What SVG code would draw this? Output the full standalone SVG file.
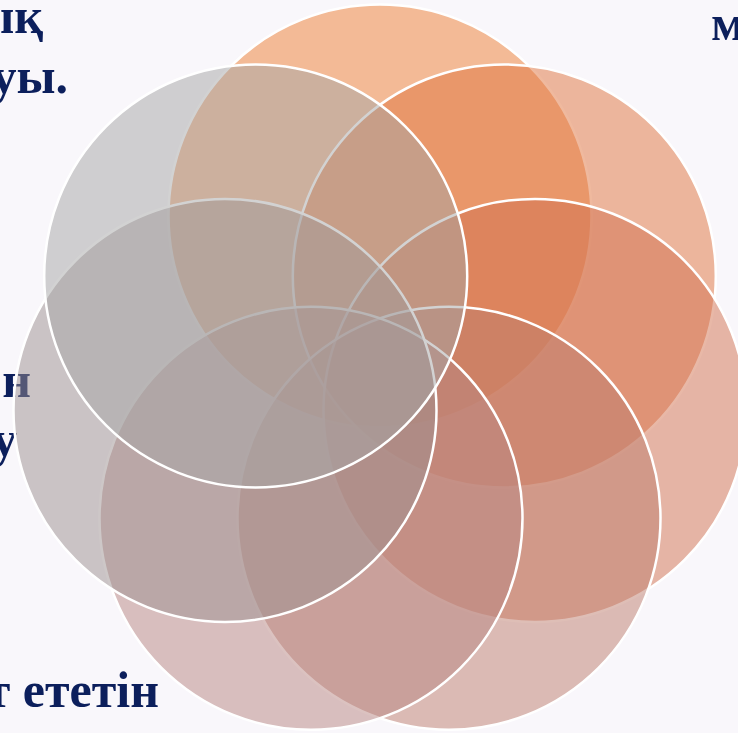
<svg xmlns="http://www.w3.org/2000/svg" width="738" height="733" viewBox="0 0 738 733">
<style>
.c{fill-opacity:0.5;stroke:#FFFFFF;stroke-width:2.5}
.t{font-family:"Liberation Serif","Times New Roman",serif;font-weight:bold;font-size:50px;fill:#0C1F5C}
</style>
<rect width="738" height="733" fill="#F9F7FB"/>
<g id="labels">
<text class="t" x="43" y="33" text-anchor="end">ық</text>
<text class="t" x="68" y="93" text-anchor="end">уы.</text>
<text class="t" x="711" y="40">м</text>
<text class="t" x="31" y="397" text-anchor="end">н</text>
<text class="t" x="17" y="456" text-anchor="end">у</text>
<text class="t" x="159" y="707" text-anchor="end">т ететін</text>
</g>
<g id="circle-1"><circle class="c" cx="380" cy="216" r="211.5" fill="#ED7D31"/></g>
<g id="circle-2"><circle class="c" cx="504.3" cy="275.9" r="211.5" fill="#E0733D"/></g>
<g id="circle-3"><circle class="c" cx="535" cy="410.4" r="211.5" fill="#D2714F"/></g>
<g id="circle-4"><circle class="c" cx="449" cy="518.3" r="211.5" fill="#BE7D6D"/></g>
<g id="circle-5"><circle class="c" cx="311" cy="518.3" r="211.5" fill="#B88581"/></g>
<g id="circle-6"><circle class="c" cx="225" cy="410.4" r="211.5" fill="#9C8F8F"/></g>
<g id="circle-7"><circle class="c" cx="255.7" cy="275.9" r="211.5" fill="#A5A5A5"/></g>
<g id="connectors"/>
</svg>
